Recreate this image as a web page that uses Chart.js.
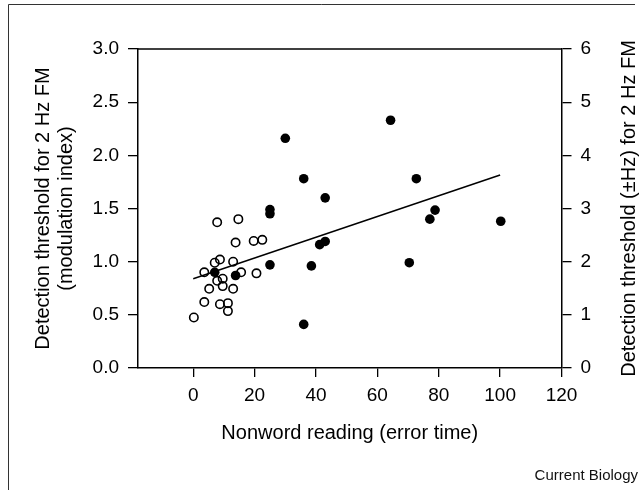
<!DOCTYPE html>
<html>
<head>
<meta charset="utf-8">
<script src="https://cdn.jsdelivr.net/npm/chart.js@4/dist/chart.umd.min.js"></script>
<style>
  html, body { margin: 0; padding: 0; background: #fff; }
  #wrap { position: relative; width: 644px; height: 490px; }
</style>
</head>
<body>
<div id="wrap"><canvas id="fig" width="644" height="490"></canvas></div>
<script>
// filled circles
const filledX = [30, 36, 43, 25, 25, 41.2, 43, 25, 38.5, 36, 7, 13.8, 64.3, 72.7, 78.8, 77.1, 100.2, 70.4];
const filledY = [2.16, 1.78, 1.6, 1.49, 1.45, 1.16, 1.19, 0.97, 0.96, 0.41, 0.9, 0.87, 2.33, 1.78, 1.485, 1.4, 1.38, 0.99];

// open circles
const openX = [7.8, 14.7, 13.8, 19.7, 22.5, 8.7, 7, 13, 3.6, 15.6, 20.6, 9.6, 7.8, 9.6, 5.2, 13, 3.6, 8.7, 11.3, 11.3, 0.2];
const openY = [1.37, 1.4, 1.18, 1.195, 1.205, 1.02, 0.99, 1.0, 0.9, 0.9, 0.89, 0.84, 0.82, 0.77, 0.745, 0.745, 0.62, 0.6, 0.61, 0.535, 0.475];

// regression line end points
const fitX = [0, 100];
const fitY = [0.84, 1.815];

const xTickValues = [0, 20, 40, 60, 80, 100, 120];
const leftTickValues = [0, 0.5, 1, 1.5, 2, 2.5, 3];
const rightTickValues = [0, 1, 2, 3, 4, 5, 6];

const FONT = "'Liberation Sans', Arial, Helvetica, sans-serif";
const INK = '#000';

const toPoints = (xs, ys) => xs.map((x, i) => ({ x, y: ys[i] }));
const fixedTicks = (values) => (scale) => {
    scale.ticks = values.map((value) => ({ value }));
};

const extras = {
    id: 'extras',
    afterDraw(chart) {
        const { ctx, chartArea } = chart;
        ctx.save();
        // top edge of the plot box
        ctx.strokeStyle = INK;
        ctx.lineWidth = 1.5;
        ctx.beginPath();
        ctx.moveTo(chartArea.left, chartArea.top);
        ctx.lineTo(chartArea.right, chartArea.top);
        ctx.stroke();

        // figure frame (top and left only)
        ctx.strokeStyle = '#333';
        ctx.lineWidth = 1;
        ctx.beginPath();
        ctx.moveTo(8.5, 490);
        ctx.lineTo(8.5, 4.5);
        ctx.lineTo(635, 4.5);
        ctx.stroke();

        // right axis title, reading upwards
        ctx.fillStyle = INK;
        ctx.font = `20px ${FONT}`;
        ctx.textAlign = 'center';
        ctx.textBaseline = 'middle';
        ctx.translate(629, (chartArea.top + chartArea.bottom) / 2);
        ctx.rotate(-Math.PI / 2);
        ctx.fillText('Detection threshold (\u00b1Hz) for 2 Hz FM', 0, 0);
        ctx.restore();

        ctx.save();
        ctx.fillStyle = '#111';
        ctx.font = `15px ${FONT}`;
        ctx.textAlign = 'right';
        ctx.textBaseline = 'alphabetic';
        ctx.fillText('Current Biology', 638, 480);
        ctx.restore();
    },
};

const tickFont = { family: FONT, size: 19 };
const titleFont = { family: FONT, size: 20, lineHeight: 1.15 };
const axisGrid = {
    drawOnChartArea: false,
    drawTicks: true,
    tickLength: 10,
    color: INK,
    lineWidth: 1.3,
};
const axisBorder = { display: true, color: INK, width: 1.5 };

new Chart(document.getElementById('fig'), {
    type: 'scatter',
    data: {
        datasets: [
            {
                label: 'filled',
                data: toPoints(filledX, filledY),
                backgroundColor: INK,
                borderColor: INK,
                borderWidth: 0,
                pointRadius: 4.8,
            },
            {
                label: 'open',
                data: toPoints(openX, openY),
                backgroundColor: 'rgba(0,0,0,0)',
                borderColor: INK,
                borderWidth: 1.6,
                pointRadius: 4.2,
            },
            {
                label: 'fit',
                data: toPoints(fitX, fitY),
                showLine: true,
                borderColor: INK,
                borderWidth: 1.5,
                pointRadius: 0,
            },
        ],
    },
    options: {
        responsive: false,
        animation: false,
        layout: { padding: { top: 49, left: 0, right: 0, bottom: 0 } },
        plugins: {
            legend: { display: false },
            tooltip: { enabled: false },
        },
        scales: {
            x: {
                type: 'linear',
                min: -18,
                max: 120,
                afterBuildTicks: fixedTicks(xTickValues),
                afterFit: (scale) => { scale.height = 122; },
                grid: { ...axisGrid, tickLength: 9 },
                border: axisBorder,
                ticks: { color: INK, font: tickFont, padding: 7, maxRotation: 0 },
                title: {
                    display: true,
                    text: 'Nonword reading (error time)',
                    color: INK,
                    font: titleFont,
                    padding: { top: 0, bottom: 45 },
                },
            },
            y: {
                type: 'linear',
                position: 'left',
                min: 0,
                max: 3,
                afterBuildTicks: fixedTicks(leftTickValues),
                afterFit: (scale) => { scale.width = 138; },
                grid: axisGrid,
                border: axisBorder,
                ticks: {
                    color: INK,
                    font: tickFont,
                    padding: 9,
                    callback: (value) => Number(value).toFixed(1),
                },
                title: {
                    display: true,
                    text: ['Detection threshold for 2 Hz FM', '(modulation index)'],
                    color: INK,
                    font: titleFont,
                    padding: { top: 32, bottom: 0 },
                },
            },
            y2: {
                type: 'linear',
                position: 'right',
                min: 0,
                max: 6,
                afterBuildTicks: fixedTicks(rightTickValues),
                afterFit: (scale) => { scale.width = 82.5; },
                grid: axisGrid,
                border: axisBorder,
                ticks: { color: INK, font: tickFont, padding: 9 },
            },
        },
    },
    plugins: [extras],
});
</script>
</body>
</html>
